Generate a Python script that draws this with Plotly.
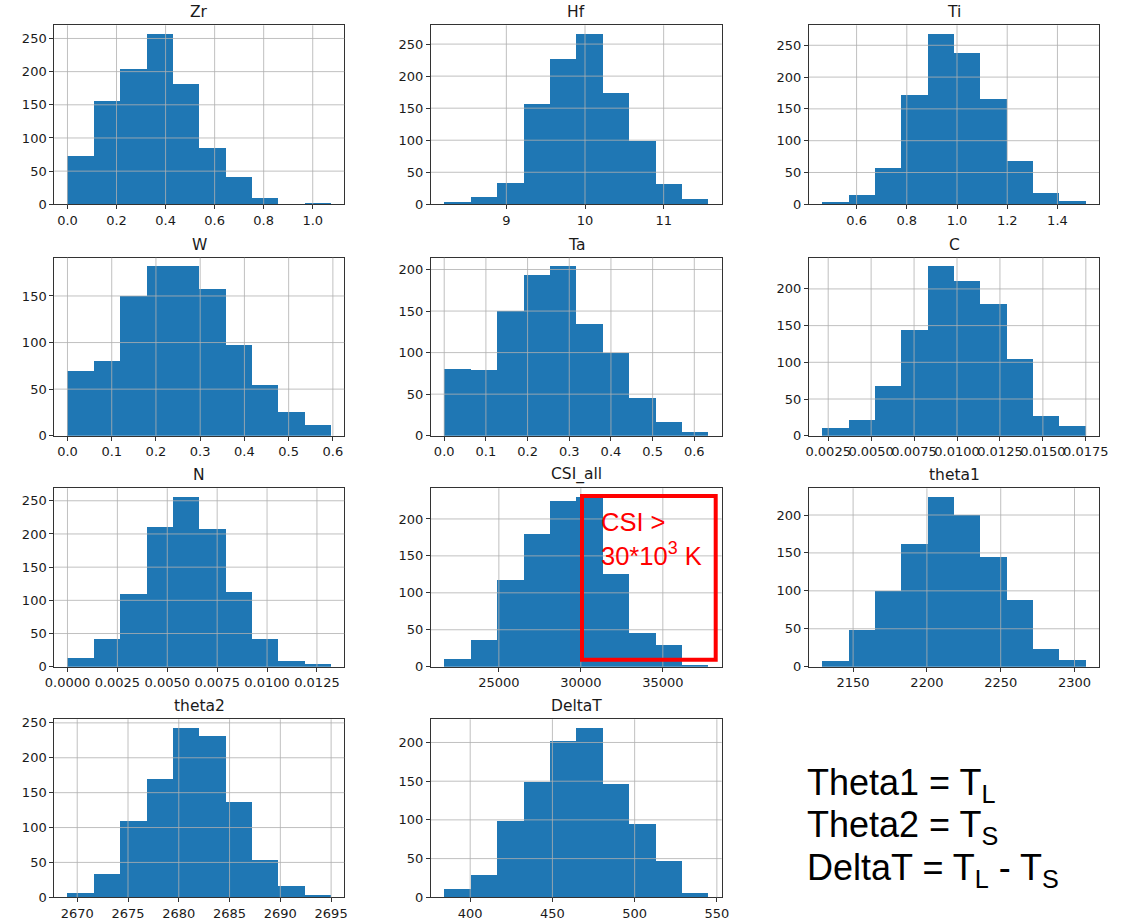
import plotly.graph_objects as go

# ---------------- data ----------------
names = ["Zr", "Hf", "Ti", "W", "Ta", "C", "N", "CSI_all", "theta1", "theta2", "DeltaT"]

zr_bins = [0.0, 1.075]
zr_counts = [73, 156, 204, 257, 182, 85, 41, 10, 0, 2]
hf_bins = [8.21, 11.57]
hf_counts = [4, 12, 34, 157, 226, 266, 174, 99, 32, 8]
ti_bins = [0.463, 1.513]
ti_counts = [4, 15, 57, 172, 268, 238, 166, 68, 17, 5]
w_bins = [0.0, 0.596]
w_counts = [69, 80, 150, 182, 182, 158, 97, 54, 25, 12]
ta_bins = [0.0, 0.634]
ta_counts = [80, 79, 150, 193, 204, 135, 100, 45, 16, 5]
c_bins = [0.00215, 0.0175]
c_counts = [10, 22, 68, 144, 231, 211, 179, 104, 27, 13]
n_bins = [0.0, 0.01321]
n_counts = [13, 41, 110, 210, 256, 208, 113, 41, 9, 4]
csi_bins = [21667, 37785]
csi_counts = [10, 36, 118, 179, 224, 230, 125, 45, 30, 2]
theta1_bins = [2129.05, 2307.66]
theta1_counts = [7, 48, 100, 162, 224, 200, 145, 88, 23, 9]
theta2_bins = [2669.04, 2695.0]
theta2_counts = [6, 33, 109, 170, 243, 231, 136, 54, 16, 4]
deltat_bins = [384.2, 544.9]
deltat_counts = [11, 29, 99, 149, 202, 219, 147, 95, 47, 5]

# tick labels
zr_xticks = ["0.0", "0.2", "0.4", "0.6", "0.8", "1.0"]
hf_xticks = ["9", "10", "11"]
ti_xticks = ["0.6", "0.8", "1.0", "1.2", "1.4"]
w_xticks = ["0.0", "0.1", "0.2", "0.3", "0.4", "0.5", "0.6"]
ta_xticks = ["0.0", "0.1", "0.2", "0.3", "0.4", "0.5", "0.6"]
c_xticks = ["0.0025", "0.0050", "0.0075", "0.0100", "0.0125", "0.0150", "0.0175"]
n_xticks = ["0.0000", "0.0025", "0.0050", "0.0075", "0.0100", "0.0125"]
csi_xticks = ["25000", "30000", "35000"]
theta1_xticks = ["2150", "2200", "2250", "2300"]
theta2_xticks = ["2670", "2675", "2680", "2685", "2690", "2695"]
deltat_xticks = ["400", "450", "500", "550"]

yticks_250 = ["0", "50", "100", "150", "200", "250"]
yticks_200 = ["0", "50", "100", "150", "200"]
yticks_150 = ["0", "50", "100", "150"]

panels = [
    (zr_bins, zr_counts, zr_xticks, yticks_250),
    (hf_bins, hf_counts, hf_xticks, yticks_250),
    (ti_bins, ti_counts, ti_xticks, yticks_250),
    (w_bins, w_counts, w_xticks, yticks_150),
    (ta_bins, ta_counts, ta_xticks, yticks_200),
    (c_bins, c_counts, c_xticks, yticks_200),
    (n_bins, n_counts, n_xticks, yticks_250),
    (csi_bins, csi_counts, csi_xticks, yticks_200),
    (theta1_bins, theta1_counts, theta1_xticks, yticks_200),
    (theta2_bins, theta2_counts, theta2_xticks, yticks_250),
    (deltat_bins, deltat_counts, deltat_xticks, yticks_200),
]

# ---------------- layout geometry (page pixels) ----------------
W, H = 1135, 924
OFF = 0  # body margin removed via post_script
cols_px = [(54.3, 344.3), (431.0, 721.7), (809.0, 1099.0)]
rows_px = [(25.3, 204.3), (257.7, 435.7), (488.3, 666.7), (719.3, 897.3)]


def fx(p):
    return (p - OFF) / W


def fy(p):
    return 1 - (p - OFF) / H


BAR = "#1f77b4"
GRID = "#b0b0b0"
FRAME = "#333333"
TXT = "#1a1a1a"
tick_font = dict(family="DejaVu Sans", size=13, color=TXT)

fig = go.Figure()
layout = dict(
    width=W, height=H, margin=dict(l=0, r=0, t=0, b=0, autoexpand=False),
    paper_bgcolor="white", plot_bgcolor="white", showlegend=False,
    bargap=0,
)
annotations = []
shapes = []

for i, (bins, counts, xt, yt) in enumerate(panels):
    r, c = divmod(i, 3)
    k = "" if i == 0 else str(i + 1)
    lo, hi = bins
    nb = len(counts)
    wdt = (hi - lo) / nb
    centers = [lo + (j + 0.5) * wdt for j in range(nb)]
    fig.add_trace(go.Bar(
        x=centers, y=counts, width=[wdt] * nb,
        marker=dict(color=BAR, line=dict(width=0)),
        xaxis="x" + k, yaxis="y" + k, hoverinfo="x+y",
    ))
    span = hi - lo
    xr = [lo - 0.05 * span, hi + 0.05 * span]
    yr = [0, 1.05 * max(counts)]
    xv = [float(t) for t in xt]
    yv = [float(t) for t in yt]
    x0p, x1p = cols_px[c]
    y0p, y1p = rows_px[r]
    common = dict(showline=True, mirror=True, linecolor=FRAME, linewidth=1,
                  ticks="outside", ticklen=4, tickwidth=1, tickcolor=FRAME,
                  showgrid=False, zeroline=False, tickfont=tick_font,
                  tickmode="array", tickangle=0, fixedrange=True,
                  automargin=False)
    layout["xaxis" + k] = dict(common, domain=[fx(x0p), fx(x1p)], range=xr,
                               tickvals=xv, ticktext=xt, anchor="y" + k)
    layout["yaxis" + k] = dict(common, domain=[fy(y1p), fy(y0p)], range=yr,
                               tickvals=yv, ticktext=yt, anchor="x" + k)
    # grid lines drawn over the bars (matplotlib style)
    for v in xv:
        shapes.append(dict(type="line", xref="x" + k, yref="y" + k + " domain",
                           x0=v, x1=v, y0=0, y1=1, layer="above",
                           line=dict(color=GRID, width=0.8)))
    for v in yv:
        if v == 0:
            continue
        shapes.append(dict(type="line", xref="x" + k + " domain", yref="y" + k,
                           x0=0, x1=1, y0=v, y1=v, layer="above",
                           line=dict(color=GRID, width=0.8)))
    # title
    annotations.append(dict(text=names[i], xref="paper", yref="paper",
                            x=fx((x0p + x1p) / 2), y=fy(y0p - 2),
                            xanchor="center", yanchor="bottom", showarrow=False,
                            font=dict(family="DejaVu Sans", size=15.5, color=TXT)))

# red highlight box on CSI_all
shapes.append(dict(type="rect", xref="paper", yref="paper",
                   x0=fx(582), x1=fx(715.7), y0=fy(659.7), y1=fy(496),
                   line=dict(color="#ff0000", width=4), layer="above"))
red_font = dict(family="Liberation Sans, Arial", size=25.5, color="#ff0000")
annotations.append(dict(text="CSI >", xref="paper", yref="paper",
                        x=fx(599), y=fy(522), xanchor="left", yanchor="middle",
                        showarrow=False, font=red_font))
annotations.append(dict(text="30*10<sup>3</sup> K", xref="paper", yref="paper",
                        x=fx(599), y=fy(554), xanchor="left", yanchor="middle",
                        showarrow=False, font=red_font))

# legend-like definitions
def_font = dict(family="Liberation Sans, Arial", size=36, color="black")
def_lines = ["Theta1 = T<sub>L</sub>", "Theta2 = T<sub>S</sub>",
             "DeltaT = T<sub>L</sub> - T<sub>S</sub>"]
def_y = [785, 827, 870]
for txt, yp in zip(def_lines, def_y):
    annotations.append(dict(text=txt, xref="paper", yref="paper",
                            x=fx(805), y=fy(yp), xanchor="left", yanchor="middle",
                            showarrow=False, font=def_font))

layout["annotations"] = annotations
layout["shapes"] = shapes
fig.update_layout(**layout)
fig.write_html(
    "out.html",
    config={"displayModeBar": False, "staticPlot": True},
    post_script="document.body.style.margin='0';document.body.style.overflow='hidden';",
)
